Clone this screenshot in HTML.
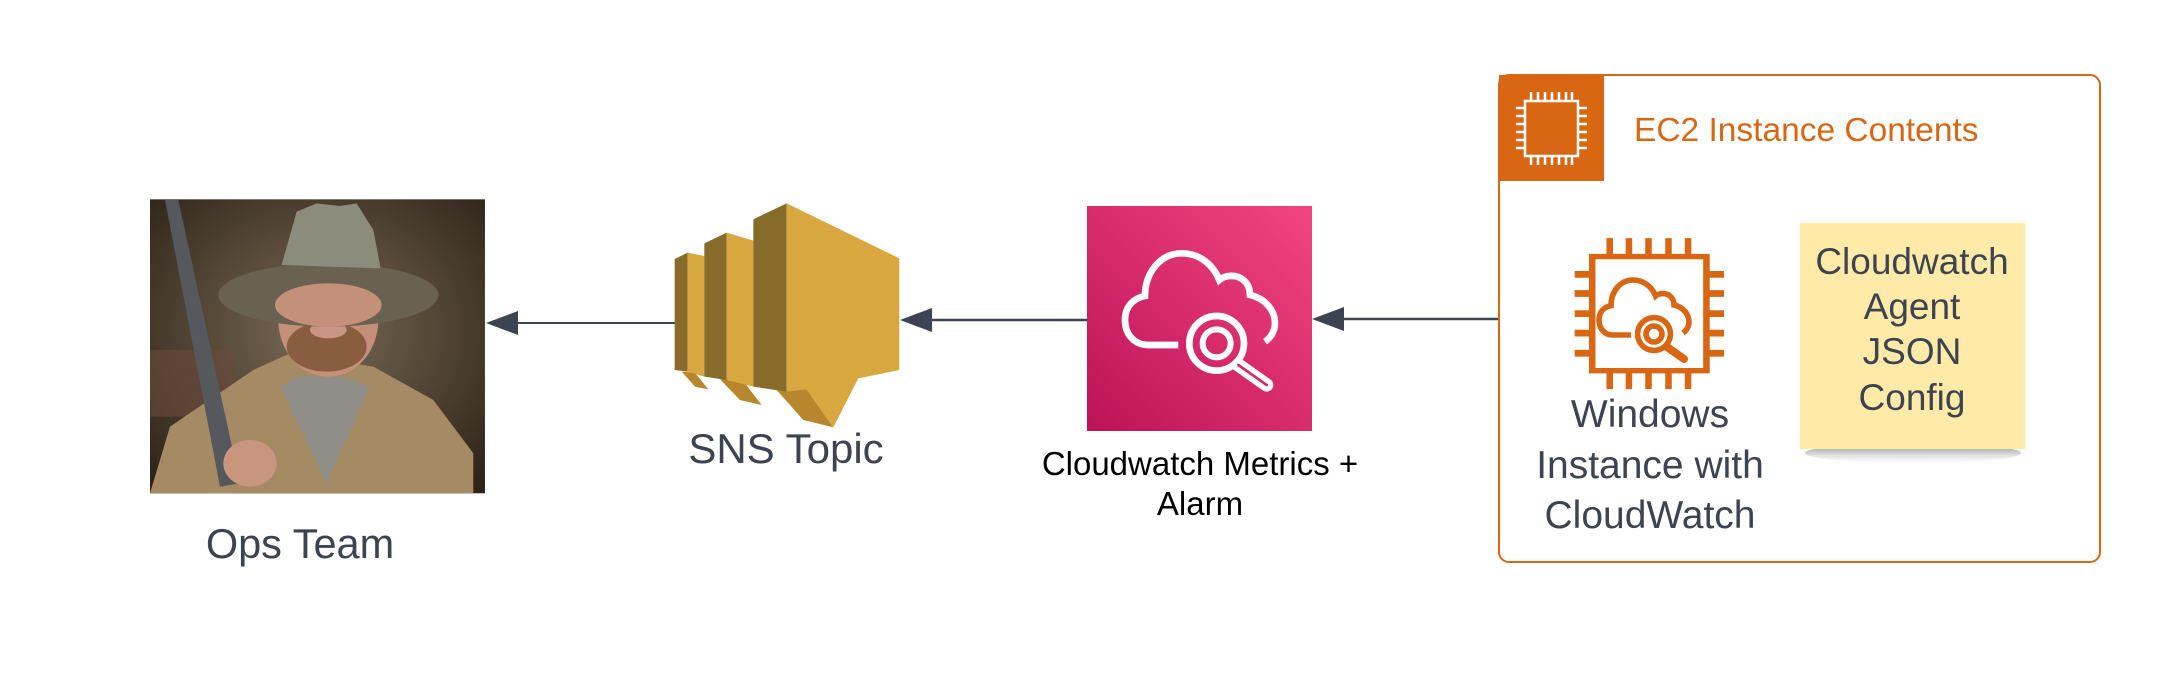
<!DOCTYPE html>
<html><head><meta charset="utf-8"><style>
html,body{margin:0;padding:0;background:#fff;width:2175px;height:684px;overflow:hidden}
svg{display:block}
text{font-family:"Liberation Sans",sans-serif}
</style></head><body>
<svg width="2175" height="684" viewBox="0 0 2175 684" xmlns="http://www.w3.org/2000/svg">
<defs>
<linearGradient id="pink" x1="0" y1="1" x2="1" y2="0">
<stop offset="0" stop-color="#bc1356"/><stop offset="1" stop-color="#f34482"/></linearGradient>
<radialGradient id="bg" cx="0.5" cy="0.45" r="0.7">
<stop offset="0" stop-color="#7a6a55"/><stop offset="1" stop-color="#2e2418"/></radialGradient>
<linearGradient id="sh" x1="0" y1="0" x2="0" y2="1"><stop offset="0" stop-color="#777" stop-opacity="0.9"/><stop offset="1" stop-color="#bbb" stop-opacity="0"/></linearGradient>
</defs>

<!-- Photo -->
<g transform="translate(140,190) scale(0.3333)">
<rect x="30" y="28" width="1005" height="882" fill="url(#bg)"/>
<rect x="30" y="480" width="250" height="200" fill="#6a4a3a" opacity="0.6"/>
<polygon points="30,910 90,710 340,540 450,490 700,530 880,630 1000,790 1000,910" fill="#a58b64"/>
<polygon points="420,590 560,880 690,590 600,560 470,560" fill="#8f8f88"/>
<ellipse cx="565" cy="390" rx="150" ry="170" fill="#c4907a"/>
<ellipse cx="560" cy="470" rx="120" ry="75" fill="#8a5d40"/>
<ellipse cx="565" cy="420" rx="55" ry="25" fill="#c99585"/>
<ellipse cx="565" cy="315" rx="330" ry="95" fill="#6a6250"/>
<ellipse cx="565" cy="345" rx="160" ry="65" fill="#c4907a"/>
<polygon points="425,225 470,65 530,40 600,48 650,40 700,120 722,235" fill="#8c8c7c"/>
<polygon points="75,30 115,30 300,880 240,890" fill="#55585c"/>
<ellipse cx="330" cy="820" rx="80" ry="70" fill="#c8957f"/>
</g>
<text x="300" y="558" font-size="41.5" fill="#3c4452" text-anchor="middle">Ops Team</text>

<!-- arrow 1 -->
<line x1="515" y1="323" x2="676" y2="323" stroke="#3c4452" stroke-width="2"/>
<polygon points="486,323 518,311 518,335" fill="#3c4452"/>

<!-- SNS -->
<g transform="translate(660,190) scale(0.3333)">
<polygon points="65,545 105,548 145,598 105,590" fill="#b8862c"/>
<polygon points="44,207 83,188 83,545 44,540" fill="#866b2a"/>
<polygon points="83,188 133,198 133,560 83,545" fill="#d9a740"/>
<polygon points="180,568 245,567 305,645 240,630" fill="#b8862c"/>
<polygon points="133,160 200,128 200,570 133,560" fill="#866b2a"/>
<polygon points="200,128 280,152 280,590 200,570" fill="#d9a740"/>
<polygon points="350,600 440,598 520,712 430,690" fill="#b8862c"/>
<polygon points="280,88 380,40 380,605 280,590" fill="#866b2a"/>
<polygon points="380,40 718,205 718,540 595,565 520,712 440,598 380,605" fill="#d9a740"/>
</g>
<text x="786" y="463" font-size="42" fill="#3c4452" text-anchor="middle">SNS Topic</text>

<!-- arrow 2 -->
<line x1="930" y1="320" x2="1087" y2="320" stroke="#3c4452" stroke-width="2.5"/>
<polygon points="900,320 932,308 932,332" fill="#3c4452"/>

<!-- CloudWatch -->
<rect x="1087" y="206" width="225" height="225" fill="url(#pink)"/>
<g transform="translate(1080,200) scale(0.3333)" fill="none" stroke="#fff" stroke-width="20">
<path d="M295,435 H205 C160,435 135,400 135,360 C135,320 160,295 195,288 C195,220 240,160 305,160 C360,160 400,195 418,240 C435,225 470,222 490,240 C505,252 510,270 510,285 C555,295 585,330 585,370 C585,395 570,415 555,425"/>
<circle cx="410" cy="430" r="82"/>
<circle cx="410" cy="430" r="42" stroke-width="18"/>
<line x1="475" y1="495" x2="560" y2="555" stroke-width="40" stroke-linecap="round"/>
<line x1="475" y1="495" x2="560" y2="555" stroke="#d42a6a" stroke-width="8" stroke-linecap="round"/>
</g>
<text x="1200" y="475" font-size="33" fill="#000" text-anchor="middle">Cloudwatch Metrics +</text>
<text x="1200" y="515" font-size="33" fill="#000" text-anchor="middle">Alarm</text>

<!-- arrow 3 -->
<line x1="1342" y1="319" x2="1499" y2="319" stroke="#3c4452" stroke-width="2.5"/>
<polygon points="1312,319 1344,307 1344,331" fill="#3c4452"/>

<!-- container -->
<rect x="1499" y="75" width="601" height="487" rx="10" fill="none" stroke="#d86613" stroke-width="2"/>
<path d="M1499,75 H1604 V181 H1499 Z" fill="#d86613"/>
<g stroke="#fff" stroke-width="2.5" fill="none">
<rect x="1525" y="101" width="53" height="55"/>
<path d="M1531,92v9M1538,92v9M1545,92v9M1552,92v9M1559,92v9M1566,92v9M1572,92v9
M1531,156v9M1538,156v9M1545,156v9M1552,156v9M1559,156v9M1566,156v9M1572,156v9
M1516,108h9M1516,116h9M1516,124h9M1516,132h9M1516,140h9M1516,148h9
M1578,108h9M1578,116h9M1578,124h9M1578,132h9M1578,140h9M1578,148h9"/>
</g>
<text x="1634" y="141" font-size="33.5" fill="#d86613">EC2 Instance Contents</text>

<!-- chip icon -->
<g transform="translate(0,12)">
<g transform="translate(1480,60) scale(0.408,0.3356)" fill="none" stroke="#d86613">
<rect x="275" y="550" width="280" height="340" stroke-width="16"/>
<path d="M318,495v50M365,495v50M413,495v50M462,495v50M510,495v50M318,895v50M365,895v50M413,895v50M462,895v50M510,895v50" stroke-width="16"/>
<path d="M232,603h40M232,660h40M232,720h40M232,778h40M232,838h40M558,603h40M558,660h40M558,720h40M558,778h40M558,838h40" stroke-width="20"/>
</g>
<g transform="translate(1572,236) scale(0.2)" fill="none" stroke="#d86613" stroke-width="28">
<path d="M295,435 H205 C160,435 135,400 135,360 C135,320 160,295 195,288 C195,220 240,160 305,160 C360,160 400,195 418,240 C435,225 470,222 490,240 C505,252 510,270 510,285 C555,295 585,330 585,370 C585,395 570,415 555,425"/>
<circle cx="410" cy="430" r="82"/>
<circle cx="410" cy="430" r="40"/>
<line x1="475" y1="495" x2="560" y2="555" stroke-width="40" stroke-linecap="round"/>
</g>
</g>
<text font-size="39" fill="#3c4452" text-anchor="middle"><tspan x="1650" y="427">Windows</tspan><tspan x="1650" y="478">Instance with</tspan><tspan x="1650" y="528">CloudWatch</tspan></text>

<!-- note -->
<ellipse cx="1913" cy="453" rx="108" ry="10" fill="url(#sh)"/>
<rect x="1800" y="223" width="225" height="226" fill="#ffeaa7"/>
<text font-size="37" fill="#3c4452" text-anchor="middle"><tspan x="1912" y="274">Cloudwatch</tspan><tspan x="1912" y="319">Agent</tspan><tspan x="1912" y="364">JSON</tspan><tspan x="1912" y="410">Config</tspan></text>
</svg>
</body></html>
